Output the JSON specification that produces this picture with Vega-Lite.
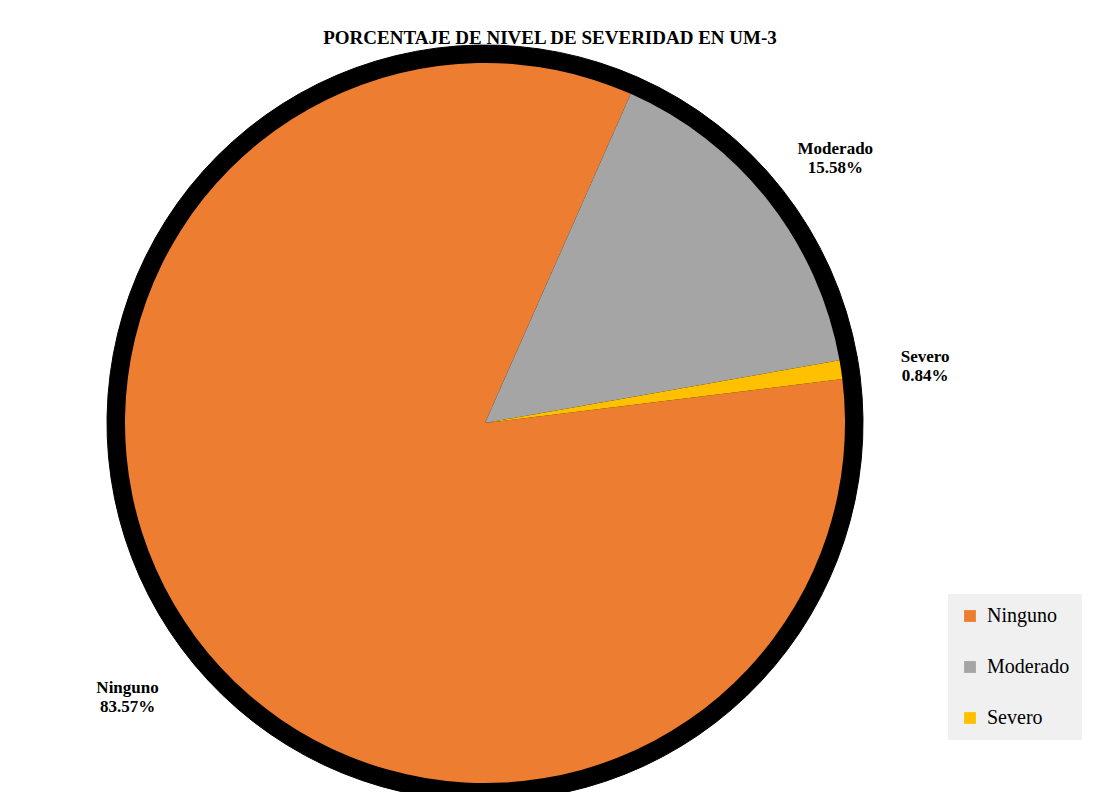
{
  "$schema": "https://vega.github.io/schema/vega-lite/v6.json",
  "width": 970,
  "height": 736,
  "autosize": {"type": "none"},
  "padding": {"left": 0, "top": 55, "right": 123, "bottom": 1},
  "background": "white",
  "config": {"view": {"stroke": null}},
  "title": {
    "text": "PORCENTAJE DE NIVEL DE SEVERIDAD EN UM-3",
    "font": "Liberation Serif",
    "fontSize": 19,
    "fontWeight": "bold",
    "color": "black",
    "anchor": "middle",
    "dx": 65,
    "dy": 13,
    "offset": 8
  },
  "data": {
    "values": [
      {"nivel": "Ninguno", "porcentaje": 83.57, "i": 1, "etiqueta": "Ninguno\n83.57%"},
      {"nivel": "Moderado", "porcentaje": 15.58, "i": 2, "etiqueta": "Moderado\n15.58%"},
      {"nivel": "Severo", "porcentaje": 0.84, "i": 3, "etiqueta": "Severo\n0.84%"}
    ]
  },
  "encoding": {
    "theta": {
      "field": "porcentaje",
      "type": "quantitative",
      "stack": true,
      "scale": {"range": [1.4486, 7.7318]}
    },
    "order": {"field": "i", "type": "quantitative"}
  },
  "layer": [
    {
      "mark": {"type": "arc", "radius": 378, "fill": "black", "stroke": "black", "strokeWidth": 1}
    },
    {
      "mark": {"type": "arc", "radius": 360},
      "encoding": {
        "color": {
          "field": "nivel",
          "type": "nominal",
          "scale": {
            "domain": ["Ninguno", "Moderado", "Severo"],
            "range": ["#ED7D31", "#A5A5A5", "#FFC000"]
          },
          "legend": {
            "orient": "none",
            "legendX": 948,
            "legendY": 539,
            "title": null,
            "fillColor": "#f0f0f0",
            "padding": 12,
            "rowPadding": 31,
            "labelFont": "Liberation Serif",
            "labelFontSize": 20,
            "labelColor": "black",
            "labelOffset": 7,
            "symbolType": "square",
            "symbolSize": 140,
            "symbolStrokeWidth": 0
          }
        }
      }
    },
    {
      "mark": {
        "type": "text",
        "radius": 445,
        "font": "Liberation Serif",
        "fontSize": 17,
        "fontWeight": "bold",
        "color": "black",
        "lineBreak": "\n",
        "align": "center",
        "baseline": "middle"
      },
      "encoding": {
        "text": {"field": "etiqueta", "type": "nominal"}
      }
    }
  ]
}
